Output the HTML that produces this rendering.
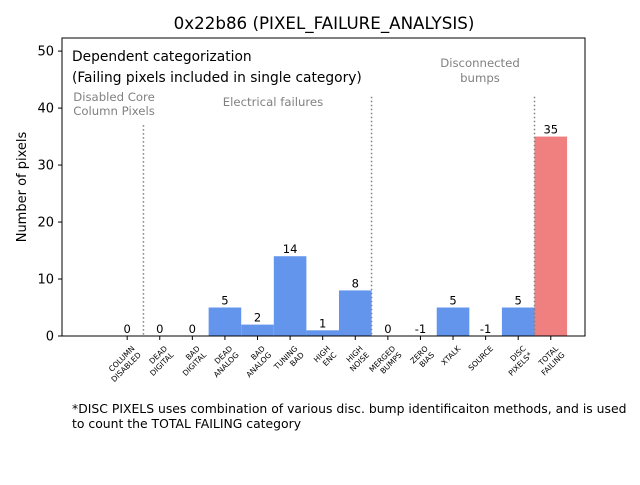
<!DOCTYPE html>
<html><head><meta charset="utf-8"><style>
body{margin:0;background:#fff;}
svg text{font-family:"DejaVu Sans","Liberation Sans",sans-serif;}
</style></head><body>
<svg id="chart" width="640" height="480" xmlns="http://www.w3.org/2000/svg">
<text x="324" y="29" font-size="16.7" text-anchor="middle">0x22b86 (PIXEL_FAILURE_ANALYSIS)</text>
<g id="plot"></g>
<text transform="translate(26,187) rotate(-90)" font-size="13" text-anchor="middle">Number of pixels</text>
<text x="72" y="61" font-size="13.8">Dependent categorization</text>
<text x="72" y="82" font-size="13.8">(Failing pixels included in single category)</text>
<text x="114" y="101" font-size="11.7" fill="#808080" text-anchor="middle">Disabled Core</text>
<text x="114" y="115" font-size="11.7" fill="#808080" text-anchor="middle">Column Pixels</text>
<text x="273" y="106" font-size="11.7" fill="#808080" text-anchor="middle">Electrical failures</text>
<text x="480" y="67" font-size="11.7" fill="#808080" text-anchor="middle">Disconnected</text>
<text x="480" y="82" font-size="11.7" fill="#808080" text-anchor="middle">bumps</text>
<text x="72" y="413" font-size="12.4">*DISC PIXELS uses combination of various disc. bump identificaiton methods, and is used</text>
<text x="72" y="428" font-size="12.4">to count the TOTAL FAILING category</text>
</svg>
<script>
const categories=["COLUMN|DISABLED","DEAD|DIGITAL","BAD|DIGITAL","DEAD|ANALOG","BAD|ANALOG","TUNING|BAD","HIGH|ENC","HIGH|NOISE","MERGED|BUMPS","ZERO|BIAS","XTALK","SOURCE","DISC|PIXELS*","TOTAL|FAILING"];
const values=[0,0,0,5,2,14,1,8,0,-1,5,-1,5,35];
const yTicks=[0,10,20,30,40,50];
const dividers=[0.5,7.5,12.5];
const dividerTops=[37,42,42];
const L=62,R=585,T=38,B=336,XMIN=-2,XMAX=14.05,YMAX=52.3;
const sx=i=>L+(i-XMIN)/(XMAX-XMIN)*(R-L);
const sy=v=>B-v/YMAX*(B-T);
const NS="http://www.w3.org/2000/svg";
const g=document.getElementById('plot');
function mk(t,a){const e=document.createElementNS(NS,t);for(const k in a)e.setAttribute(k,a[k]);g.appendChild(e);return e;}
values.forEach((v,i)=>{
  const h=Math.max(v,0);
  if(h>0){const r=mk('rect',{x:sx(i-0.5),y:sy(h),width:sx(i+0.5)-sx(i-0.5),height:sy(0)-sy(h),fill:i===categories.length-1?'#F08080':'#6495ED'});
  
  }
  const t=mk('text',{x:sx(i),y:sy(h)-3,'font-size':11.5,'text-anchor':'middle'});t.textContent=v;
  
  
  const tk=mk('line',{x1:sx(i),x2:sx(i),y1:B,y2:B+4,stroke:'#000'});
  
  
  const parts=categories[i].split('|');
  const lt=mk('text',{transform:`translate(${sx(i)+8},${B+13}) rotate(-45)`,'font-size':7.6,'text-anchor':'end'});
  
  
  parts.forEach((p,j)=>{const ts=document.createElementNS(NS,'tspan');ts.setAttribute('x',0);ts.setAttribute('dy',j?9:0);ts.textContent=p;lt.appendChild(ts);});
});
dividers.forEach((d,k)=>{const l=mk('line',{x1:sx(d),x2:sx(d),y1:sy(dividerTops[k]),y2:B,stroke:'#808080','stroke-width':1.5,'stroke-dasharray':'1.5,2.5'});
  
  });
yTicks.forEach(v=>{mk('line',{x1:L-4,x2:L,y1:sy(v),y2:sy(v),stroke:'#000'});
  const t=mk('text',{x:L-8,y:sy(v)+4.5,'font-size':13,'text-anchor':'end'});t.textContent=v;
  
  });
const f=mk('rect',{x:L,y:T,width:R-L,height:B-T,fill:'none',stroke:'#000','stroke-width':1});


</script>
</body></html>
